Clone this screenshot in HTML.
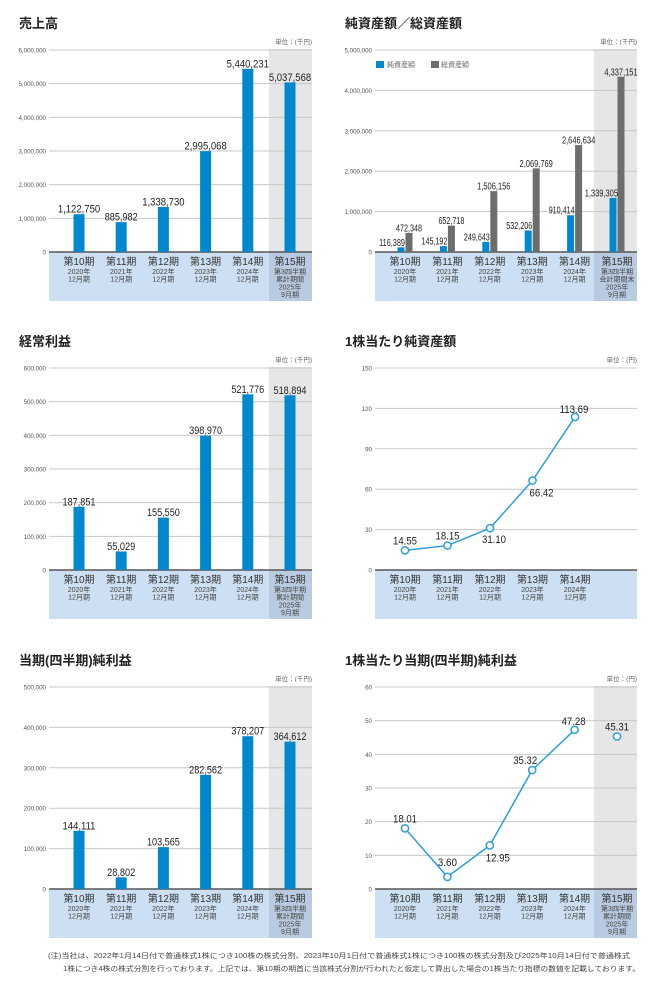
<!DOCTYPE html>
<html><head><meta charset="utf-8"><style>
html,body{margin:0;padding:0;background:#fff;}
svg{display:block;font-family:"Liberation Sans","Noto Sans CJK JP",sans-serif;}
</style></head><body>
<svg id="s" width="660" height="983" viewBox="0 0 660 983" xmlns="http://www.w3.org/2000/svg"></svg>
<script>
const S=document.getElementById('s');let h='';
function t(x,y,txt,o){o=o||{};h+=`<text x="${x}" y="${y}" font-size="${o.fs||7}" fill="${o.c||'#444'}" text-anchor="${o.a||'start'}" font-weight="${o.w||'normal'}"${o.ls?` letter-spacing="${o.ls}"`:''}${o.tl?` textLength="${o.tl}" lengthAdjust="spacingAndGlyphs"`:''}>${txt}</text>`;}
function r(x,y,w,hh,c){h+=`<rect x="${x}" y="${y}" width="${w}" height="${hh}" fill="${c}"/>`;}
const cats=[['第10期','2020年','12月期'],['第11期','2021年','12月期'],['第12期','2022年','12月期'],['第13期','2023年','12月期'],['第14期','2024年','12月期']];
function chart(o){
  const {x0,x1,top,zero,bot,title,max,step,fmt,shade,last,unit}=o;
  const c0=o.c0,sp=o.sp;
  t(x0-30,top-22,title,{fs:13,w:'bold',c:'#222'});
  t(x1,top-6,unit,{fs:6.5,a:'end',c:'#666'});
  if(shade){r(x1-43,top-1,43,zero-top+1,'#e6e6e8');}
  r(x0,zero,x1-x0,bot-zero,'#cde0f3');
  if(shade)r(x1-43,zero,43,bot-zero,'#b9cbe0');
  for(let v=0;v<=max;v+=step){const y=zero-(v/max)*(zero-top);
    if(v>0)h+=`<line x1="${x0}" y1="${y}" x2="${x1}" y2="${y}" stroke="#c8c8c8" stroke-width="1"/>`;
    t(x0-3,y+2.5,fmt(v),{fs:6.2,a:'end',c:'#555'});}
  h+=`<line x1="${x0}" y1="${zero}" x2="${x1}" y2="${zero}" stroke="#555" stroke-width="1.6"/>`;
  const n=shade?6:5;
  for(let i=0;i<n;i++){const cx=c0+sp*i;
    const L=i<5?cats[i]:['第15期'].concat(last);
    t(cx,zero+13,L[0],{fs:10,a:'middle',c:'#333'});
    for(let j=1;j<L.length;j++)t(cx,zero+14+j*7.8,L[j],{fs:7,a:'middle',c:'#444'});}
  return i=>c0+sp*i;
}
const f=v=>v.toLocaleString('en-US');
const L15=['第3四半期','累計期間','2025年','9月期'];
function bars(o,vals){const X=chart(o);vals.forEach((v,i)=>{const y=o.zero-v/o.max*(o.zero-o.top);
  r(X(i)-5.5,y,11,o.zero-y,'#0088cf');const s=f(v);t(X(i),y-1.5,s,{fs:11,a:'middle',c:'#222',tl:s.length*4.7});});}
bars({x0:49,x1:312,top:50,zero:252,bot:301,title:'売上高',max:6000000,step:1000000,fmt:f,shade:true,last:L15,unit:'単位：(千円)',c0:79,sp:42.2},
 [1122750,885982,1338730,2995068,5440231,5037568]);
bars({x0:49,x1:312,top:368,zero:570,bot:619,title:'経常利益',max:600000,step:100000,fmt:f,shade:true,last:L15,unit:'単位：(千円)',c0:79,sp:42.2},
 [187851,55029,155550,398970,521776,518894]);
bars({x0:49,x1:312,top:687,zero:889,bot:938,title:'当期(四半期)純利益',max:500000,step:100000,fmt:f,shade:true,last:L15,unit:'単位：(千円)',c0:79,sp:42.2},
 [144111,28802,103565,282562,378207,364612]);
(function(){const o={x0:375,x1:637,top:50,zero:252,bot:301,title:'純資産額／総資産額',max:5000000,step:1000000,fmt:f,shade:true,last:['第3四半期','会計期間末','2025年','9月期'],unit:'単位：(千円)',c0:405,sp:42.4};
 const X=chart(o);const a=[116389,145192,249643,532206,910414,1339305],b=[472348,652718,1506156,2069769,2646634,4337151];
 r(376,61,8,7,'#0088cf');t(387,67,'純資産額',{fs:7,c:'#666'});r(431,61,8,7,'#6d6d6d');t(441,67,'総資産額',{fs:7,c:'#666'});
 for(let i=0;i<6;i++){const ya=o.zero-a[i]/o.max*202,yb=o.zero-b[i]/o.max*202;
  r(X(i)-7.5,ya,7,o.zero-ya,'#0088cf');r(X(i)+0.5,yb,7,o.zero-yb,'#6d6d6d');
  const sa=f(a[i]),sb=f(b[i]);
  t(X(i)+(i==5?1:0),ya-1.5,sa,{fs:10,a:'end',c:'#222',tl:sa.length*3.7});
  t(X(i)+4,yb-1.5,sb,{fs:10,a:'middle',c:'#222',tl:sb.length*3.7});}})();
function line(o,vals,labs){const X=chart(o);const pts=vals.map((v,i)=>[X(i),o.zero-v/o.max*(o.zero-o.top)]);
  const k=o.nline||pts.length;
  h+=`<polyline points="${pts.slice(0,k).map(p=>p.join(',')).join(' ')}" fill="none" stroke="#2b9fd9" stroke-width="1.5"/>`;
  pts.forEach((p,i)=>{h+=`<circle cx="${p[0]}" cy="${p[1]}" r="3.6" fill="#fff" stroke="#2b9fd9" stroke-width="1.5"/>`;
   const l=labs[i];const s=vals[i].toFixed(2);t(p[0]+l[0],p[1]+l[1],s,{fs:11,a:'middle',c:'#222',tl:s.length*4.8});});}
line({x0:375,x1:637,top:368,zero:570,bot:619,title:'1株当たり純資産額',max:150,step:30,fmt:v=>v,shade:false,unit:'単位：(円)',c0:405,sp:42.5},
 [14.55,18.15,31.10,66.42,113.69],[[0,-6],[0,-6],[4,15],[9,16],[-1,-4]]);
line({x0:375,x1:637,top:687,zero:889,bot:938,title:'1株当たり当期(四半期)純利益',max:60,step:10,fmt:v=>v,shade:true,last:L15,unit:'単位：(円)',c0:405,sp:42.4,nline:5},
 [18.01,3.60,12.95,35.32,47.28,45.31],[[0,-6],[0,-11],[8,16],[-7,-6],[-1,-5],[0,-6]]);
t(48,958,'(注)当社は、2022年1月14日付で普通株式1株につき100株の株式分割、2023年10月1日付で普通株式1株につき100株の株式分割及び2025年10月14日付で普通株式',{fs:7,c:'#444',tl:582});
t(63,971,'1株につき4株の株式分割を行っております。上記では、第10期の期首に当該株式分割が行われたと仮定して算出した場合の1株当たり指標の数値を記載しております。',{fs:7,c:'#444',tl:577});
S.innerHTML=h;
</script>
</body></html>
